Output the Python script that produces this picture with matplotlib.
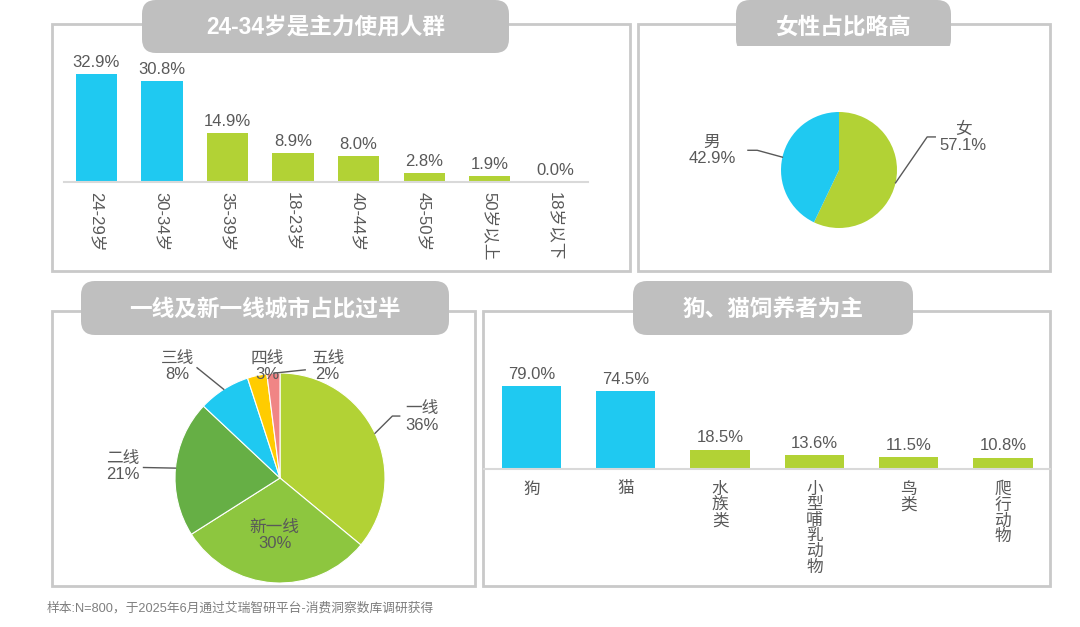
import numpy as np
import matplotlib.pyplot as plt
from matplotlib.patches import FancyBboxPatch, Rectangle

plt.rcParams['font.family'] = ['Liberation Sans', 'Noto Sans CJK SC', 'DejaVu Sans']

W, H = 1080, 627

# data
age_groups = ['24-29岁', '30-34岁', '35-39岁', '18-23岁', '40-44岁', '45-50岁', '50岁以上', '18岁以下']
age_share = [32.9, 30.8, 14.9, 8.9, 8.0, 2.8, 1.9, 0.0]

gender = ['女', '男']
gender_share = [57.1, 42.9]

city_tiers = ['一线', '新一线', '二线', '三线', '四线', '五线']
city_share = [36, 30, 21, 8, 3, 2]

pets = ['狗', '猫', '水族类', '小型哺乳动物', '鸟类', '爬行动物']
pet_share = [79.0, 74.5, 18.5, 13.6, 11.5, 10.8]

titles = ['24-34岁是主力使用人群', '女性占比略高', '一线及新一线城市占比过半', '狗、猫饲养者为主']
note = '样本:N=800，于2025年6月通过艾瑞智研平台-消费洞察数库调研获得'

BLUE = '#1FC9F1'
GREEN = '#B2D235'
GREEN2 = '#8DC63F'
GREEN3 = '#66AF45'
YELLOW = '#FFCC00'
PINK = '#F08585'
TEXT = '#595959'
BORDER = '#C9C9C9'
PILL = '#BFBFBF'
FS = 12

fig = plt.figure(figsize=(W / 100, H / 100), dpi=100)


def px_axes(x0, y0, x1, y1):
    # axes placed with pixel box (top-left origin)
    return fig.add_axes([x0 / W, 1 - y1 / H, (x1 - x0) / W, (y1 - y0) / H])


# background: panel frames, title pills, footnote
bg = px_axes(0, 0, W, H)
bg.set_xlim(0, W)
bg.set_ylim(H, 0)
bg.axis('off')

panels = [(52, 24, 630, 271), (638, 24, 1050, 271), (52, 311, 475, 586), (483, 311, 1050, 586)]
pills = [(142, 0, 509, 53), (736, 0, 951, 53), (81, 281, 449, 335), (633, 281, 913, 335)]
for x0, y0, x1, y1 in panels:
    bg.add_patch(Rectangle((x0, y0), x1 - x0, y1 - y0, fill=False, ec=BORDER, lw=2))
r = 14
for t, (x0, y0, x1, y1) in zip(titles, pills):
    bg.add_patch(FancyBboxPatch((x0 + r, y0 + r), x1 - x0 - 2 * r, y1 - y0 - 2 * r,
                                boxstyle=f'round,pad={r}', fc=PILL, ec='none'))
    bg.text((x0 + x1) / 2, (y0 + y1) / 2 + 1, t, color='white', fontsize=16.3,
            fontweight='bold', ha='center', va='center')
# second pill is cut flat at the bottom
bg.add_patch(Rectangle((734, 46), 220, 9, fc='white', ec='none'))
bg.text(47, 608, note, fontsize=9.2, color='#7F7F7F', ha='left', va='center')


def bar_panel(ax, names, vals, ymax, tick_kw):
    x = np.arange(len(names))
    colors = [BLUE] * 2 + [GREEN] * (len(names) - 2)
    bars = ax.bar(x, vals, width=0.63, color=colors)
    ax.set_xlim(-0.5, len(names) - 0.5)
    ax.set_ylim(0, ymax)
    for s in ['left', 'right', 'top']:
        ax.spines[s].set_visible(False)
    ax.spines['bottom'].set_color('#D9D9D9')
    ax.spines['bottom'].set_linewidth(1.5)
    ax.set_yticks([])
    ax.set_xticks(x, names, fontsize=FS, color=TEXT, **tick_kw)
    ax.patch.set_alpha(0)
    for b, v in zip(bars, vals):
        ax.annotate(f'{v:.1f}%', (b.get_x() + b.get_width() / 2, v), xytext=(0, 3),
                    textcoords='offset points', ha='center', va='bottom', fontsize=FS, color=TEXT)


# age bars
ax1 = px_axes(63.7, 40, 588, 182)
bar_panel(ax1, age_groups, age_share, 142 / 3.283, dict(rotation=-90))
ax1.tick_params(axis='x', length=0, pad=7)

# pet bars
ax4 = px_axes(484.4, 340, 1050, 469)
bar_panel(ax4, ['\n'.join(p) for p in pets], pet_share, 129 / 1.0506, dict(linespacing=1.05))
ax4.tick_params(axis='x', length=0, pad=9)


def pie_panel(ax, names, vals, colors, layout, lw):
    wedges, _ = ax.pie(vals, colors=colors, startangle=90, counterclock=False, radius=1,
                       wedgeprops=dict(linewidth=lw, edgecolor='white'))
    ax.set_xlim(-1, 1)
    ax.set_ylim(-1, 1)
    ax.axis('off')
    for w, n, v in zip(wedges, names, vals):
        tx, ty, line = layout[n]
        ax.text(tx, ty, f'{n}\n{v}%', ha='center', va='center', fontsize=FS,
                color=TEXT, linespacing=1.1)
        if line:
            mid = np.deg2rad((w.theta1 + w.theta2) / 2)
            px = [np.cos(mid)] + [p[0] for p in line]
            py = [np.sin(mid)] + [p[1] for p in line]
            ax.plot(px, py, color=TEXT, lw=1, clip_on=False)


# gender pie
ax2 = px_axes(839 - 58, 170 - 58, 839 + 58, 170 + 58)
gender_layout = {
    '女': (2.14, 0.57, [(1.52, 0.57), (1.66, 0.57)]),
    '男': (-2.19, 0.34, [(-1.41, 0.34), (-1.57, 0.34)]),
}
pie_panel(ax2, gender, gender_share, [GREEN, BLUE], gender_layout, 0)

# city pie
ax3 = px_axes(280 - 105, 478 - 105, 280 + 105, 478 + 105)
city_layout = {
    '一线': (1.35, 0.58, [(1.07, 0.59), (1.14, 0.59)]),
    '新一线': (-0.05, -0.55, None),
    '二线': (-1.50, 0.11, [(-1.30, 0.10)]),
    '三线': (-0.98, 1.06, [(-0.79, 1.05)]),
    '四线': (-0.12, 1.06, None),
    '五线': (0.45, 1.06, [(0.24, 1.03)]),
}
pie_panel(ax3, city_tiers, city_share, [GREEN, GREEN2, GREEN3, BLUE, YELLOW, PINK], city_layout, 0.8)

fig.savefig('out.png', dpi=100)
